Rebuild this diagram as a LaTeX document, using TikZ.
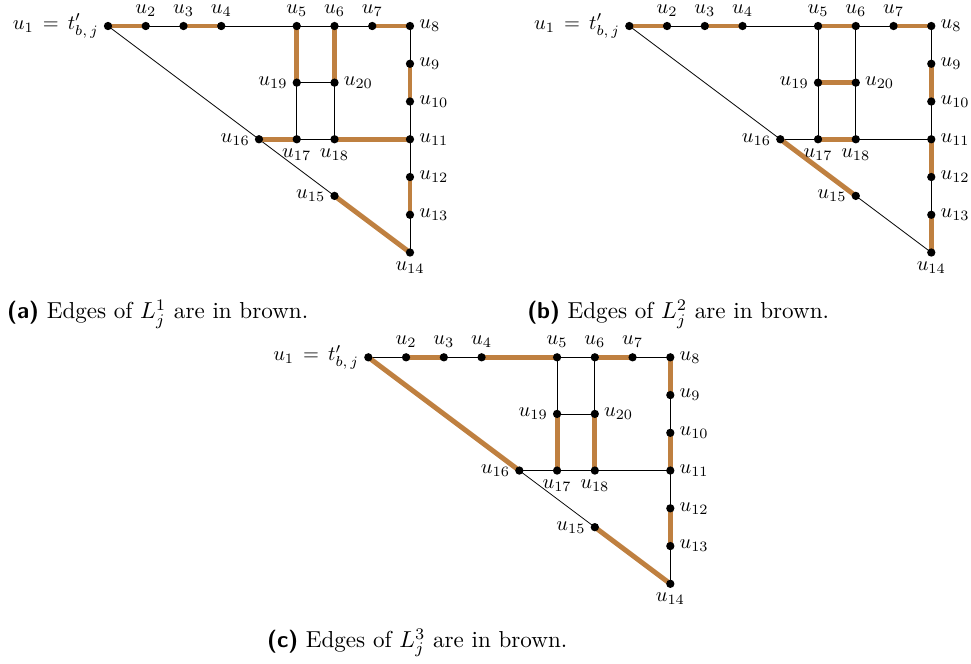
\documentclass[tikz,border=0pt]{standalone}
\usepackage{graphicx}
\pgfdeclarelayer{bg}
\pgfsetlayers{bg,main}
\tikzset{
  vtx/.style={circle, fill=black, inner sep=0pt, minimum size=0.22cm},
  thinedge/.style={draw=black, line width=0.6pt},
  brownedge/.style={draw=brown, line width=3.7pt},
  every label/.style={inner sep=1pt},
  label distance=2.5pt,
  capnode/.style={anchor=base west, inner sep=0pt},
}
\newcommand{\vl}[1]{\scalebox{1.54}{$#1$}}
\newcommand{\capt}[2]{\scalebox{1.74}{\textsf{\textbf{(#1)}} Edges of $L^{#2}_j$ are in brown.}}

\newcommand{\mygraph}[4]{%
\begin{scope}[shift={#2}]
\node[vtx,label={left:\vl{u_1\,=\,t'_{b,\,j}}}] (#1u1) at (0,0) {};
\node[vtx,label={above:\vl{u_2}}] (#1u2) at (1,0) {};
\node[vtx,label={above:\vl{u_3}}] (#1u3) at (2,0) {};
\node[vtx,label={above:\vl{u_4}}] (#1u4) at (3,0) {};
\node[vtx,label={above:\vl{u_5}}] (#1u5) at (5,0) {};
\node[vtx,label={above:\vl{u_6}}] (#1u6) at (6,0) {};
\node[vtx,label={above:\vl{u_7}}] (#1u7) at (7,0) {};
\node[vtx,label={right:\vl{u_8}}] (#1u8) at (8,0) {};
\node[vtx,label={right:\vl{u_9}}] (#1u9) at (8,-1) {};
\node[vtx,label={right:\vl{u_{10}}}] (#1u10) at (8,-2) {};
\node[vtx,label={right:\vl{u_{11}}}] (#1u11) at (8,-3) {};
\node[vtx,label={right:\vl{u_{12}}}] (#1u12) at (8,-4) {};
\node[vtx,label={right:\vl{u_{13}}}] (#1u13) at (8,-5) {};
\node[vtx,label={below:\vl{u_{14}}}] (#1u14) at (8,-6) {};
\node[vtx,label={left:\vl{u_{15}}}] (#1u15) at (6,-4.5) {};
\node[vtx,label={left:\vl{u_{16}}}] (#1u16) at (4,-3) {};
\node[vtx,label={below:\vl{u_{17}}}] (#1u17) at (5,-3) {};
\node[vtx,label={below:\vl{u_{18}}}] (#1u18) at (6,-3) {};
\node[vtx,label={left:\vl{u_{19}}}] (#1u19) at (5,-1.5) {};
\node[vtx,label={right:\vl{u_{20}}}] (#1u20) at (6,-1.5) {};
\begin{pgfonlayer}{bg}
\foreach \p/\q in {#4} {\draw[thinedge] (#1\p.center) -- (#1\q.center);}
\foreach \p/\q in {#3} {\draw[brownedge] (#1\p.center) -- (#1\q.center);}
\end{pgfonlayer}
\end{scope}}

\begin{document}
\begin{tikzpicture}
\useasboundingbox (0,0) rectangle (25.722,-17.589);
% (a)
\mygraph{a}{(2.861,-0.689)}%
{u1/u2,u3/u4,u7/u8,u5/u19,u6/u20,u9/u10,u16/u17,u18/u11,u12/u13,u15/u14}%
{u2/u3,u4/u5,u5/u6,u6/u7,u8/u9,u10/u11,u11/u12,u13/u14,u19/u20,u19/u17,u20/u18,u17/u18,u1/u16,u16/u15}
% (b)
\mygraph{b}{(16.67,-0.689)}%
{u1/u2,u3/u4,u5/u6,u7/u8,u19/u20,u17/u18,u9/u10,u11/u12,u13/u14,u16/u15}%
{u2/u3,u4/u5,u6/u7,u8/u9,u10/u11,u12/u13,u5/u19,u19/u17,u6/u20,u20/u18,u16/u17,u18/u11,u1/u16,u15/u14}
% (c)
\mygraph{c}{(9.757,-9.465)}%
{u2/u3,u4/u5,u6/u7,u8/u9,u10/u11,u12/u13,u19/u17,u20/u18,u1/u16,u15/u14}%
{u1/u2,u3/u4,u5/u6,u7/u8,u9/u10,u11/u12,u13/u14,u5/u19,u6/u20,u19/u20,u16/u17,u17/u18,u18/u11,u16/u15}
% captions
\node[capnode] (capa) at (0.185,-8.45) {\capt{a}{1}};
\node[capnode] (capb) at (13.96,-8.45) {\capt{b}{2}};
\node[capnode] (capc) at (7.07,-17.16) {\capt{c}{3}};
\end{tikzpicture}
\end{document}
